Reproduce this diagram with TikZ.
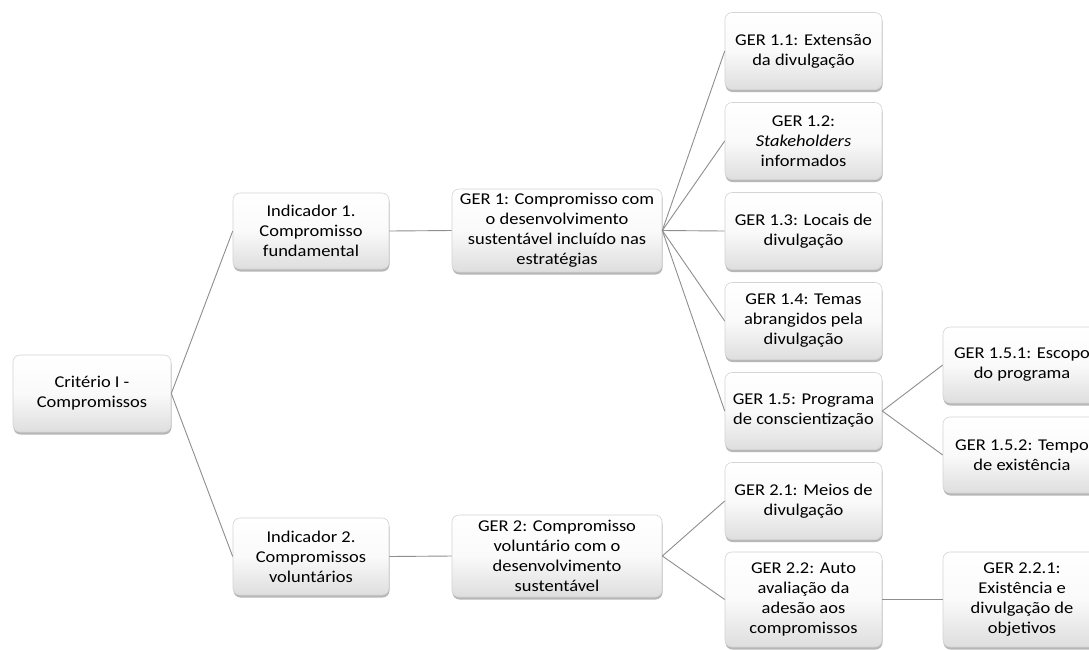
\documentclass[tikz,border=0pt]{standalone}
\usepackage{fontspec}
\setmainfont[FakeStretch=1.12]{Carlito}
\usetikzlibrary{shadows}
\definecolor{boxline}{HTML}{D4D4D4}
\definecolor{connline}{HTML}{8E8E8E}
\tikzset{
  box/.style={
    rounded corners=7pt, draw=boxline, line width=0.6pt,
    top color=white, bottom color=black!13, middle color=black!2,
    align=center, inner sep=1pt,
    font=\fontsize{16.5}{20}\selectfont,
    drop shadow={shadow xshift=0.5pt, shadow yshift=-2.5pt, opacity=0.4, fill=black!70},
  },
  conn/.style={draw=connline, line width=0.9pt},
}
\begin{document}
\begin{tikzpicture}[x=1pt, y=-1pt]
  \useasboundingbox (0,0) rectangle (1089,649);
  \clip (0,0) rectangle (1089,649);
  \fill[white] (0,0) rectangle (1089,649);

  % root and indicators
  \node[box, minimum width=158pt, minimum height=77pt] (root) at (92,393.5) {Critério I -\\Compromissos};
  \node[box, minimum width=156pt, minimum height=76pt] (ind1) at (311,231) {Indicador 1.\\Compromisso\\fundamental};
  \node[box, minimum width=156pt, minimum height=77pt] (ind2) at (311,556.5) {Indicador 2.\\Compromissos\\voluntários};

  % GER groups
  \node[box, minimum width=210pt, minimum height=83pt] (ger1) at (557,230.5) {GER 1: Compromisso com\\o desenvolvimento\\sustentável incluído nas\\estratégias};
  \node[box, minimum width=210pt, minimum height=82pt] (ger2) at (557,556) {GER 2: Compromisso\\voluntário com o\\desenvolvimento\\sustentável};

  % second level
  \node[box, minimum width=157pt, minimum height=77pt] (g11) at (803.5,51) {GER 1.1: Extensão\\da divulgação};
  \node[box, minimum width=157pt, minimum height=77pt] (g12) at (803.5,141) {GER 1.2:\\\textit{Stakeholders}\\informados};
  \node[box, minimum width=157pt, minimum height=77pt] (g13) at (803.5,231) {GER 1.3: Locais de\\divulgação};
  \node[box, minimum width=157pt, minimum height=77pt] (g14) at (803.5,321) {GER 1.4: Temas\\abrangidos pela\\divulgação};
  \node[box, minimum width=157pt, minimum height=77pt] (g15) at (803.5,411) {GER 1.5: Programa\\de conscientização};
  \node[box, minimum width=157pt, minimum height=77pt] (g21) at (803.5,501) {GER 2.1: Meios de\\divulgação};
  \node[box, minimum width=157pt, minimum height=95pt] (g22) at (803.5,599.5) {GER 2.2: Auto\\avaliação da\\adesão aos\\compromissos};

  % third level
  \node[box, minimum width=158pt, minimum height=76pt] (g151) at (1022,365) {GER 1.5.1: Escopo\\do programa};
  \node[box, minimum width=158pt, minimum height=76pt] (g152) at (1022,455) {GER 1.5.2: Tempo\\de existência};
  \node[box, minimum width=158pt, minimum height=95pt] (g221) at (1022,599.5) {GER 2.2.1:\\Existência e\\divulgação de\\objetivos};

  % connectors
  \draw[conn] (root.east) -- (ind1.west);
  \draw[conn] (root.east) -- (ind2.west);
  \draw[conn] (ind1.east) -- (ger1.west);
  \draw[conn] (ind2.east) -- (ger2.west);
  \foreach \n in {g11,g12,g13,g14,g15}
    \draw[conn] (ger1.east) -- (\n.west);
  \draw[conn] (ger2.east) -- (g21.west);
  \draw[conn] (ger2.east) -- (g22.west);
  \draw[conn] (g15.east) -- (g151.west);
  \draw[conn] (g15.east) -- (g152.west);
  \draw[conn] (g22.east) -- (g221.west);
\end{tikzpicture}
\end{document}
